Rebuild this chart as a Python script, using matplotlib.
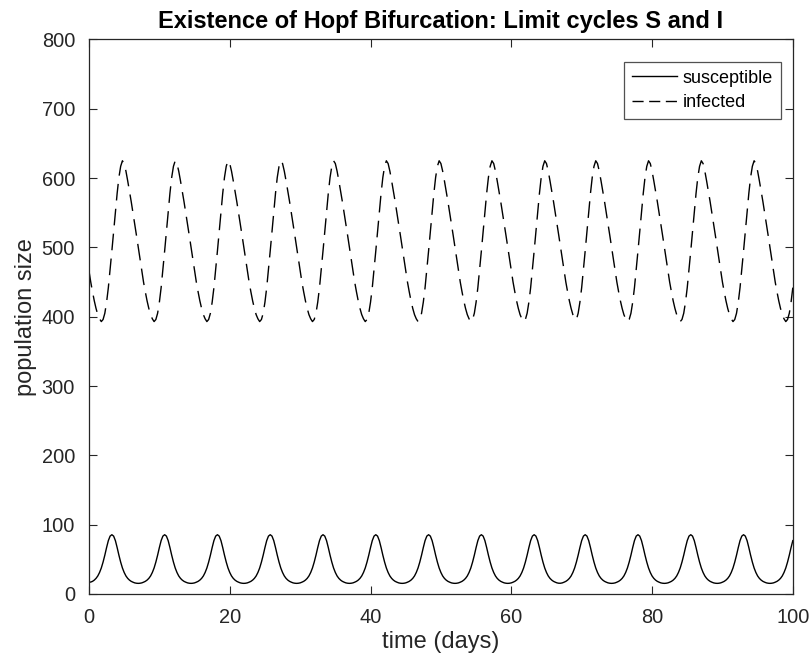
import numpy as np
import matplotlib.pyplot as plt
from matplotlib.lines import Line2D

# readings, one value every quarter day from t=0 to t=100
# (one row per ~7.5 day cycle)
susceptible = [
    17.0, 17.2, 18.2, 20.0, 22.5, 26.0, 31.0, 37.5, 46.0, 56.0, 67.0, 77.0, 83.5, 85.5, 83.5, 77.0, 67.0, 56.0, 46.0, 37.5, 31.0, 26.0, 22.5, 20.0, 18.2, 17.0, 16.0, 15.5,
    15.3, 15.5, 16.0, 17.0, 18.2, 20.0, 22.5, 26.0, 31.0, 37.5, 46.0, 56.0, 67.0, 77.0, 83.5, 85.5, 83.5, 77.0, 67.0, 56.0, 46.0, 37.5, 31.0, 26.0, 22.5, 20.0, 18.2, 17.0, 16.0, 15.5,
    15.3, 15.5, 16.0, 17.0, 18.2, 20.0, 22.5, 26.0, 31.0, 37.5, 46.0, 56.0, 67.0, 77.0, 83.5, 85.5, 83.5, 77.0, 67.0, 56.0, 46.0, 37.5, 31.0, 26.0, 22.5, 20.0, 18.2, 17.0, 16.0, 15.5,
    15.3, 15.5, 16.0, 17.0, 18.2, 20.0, 22.5, 26.0, 31.0, 37.5, 46.0, 56.0, 67.0, 77.0, 83.5, 85.5, 83.5, 77.0, 67.0, 56.0, 46.0, 37.5, 31.0, 26.0, 22.5, 20.0, 18.2, 17.0, 16.0, 15.5,
    15.3, 15.5, 16.0, 17.0, 18.2, 20.0, 22.5, 26.0, 31.0, 37.5, 46.0, 56.0, 67.0, 77.0, 83.5, 85.5, 83.5, 77.0, 67.0, 56.0, 46.0, 37.5, 31.0, 26.0, 22.5, 20.0, 18.2, 17.0, 16.0, 15.5,
    15.3, 15.5, 16.0, 17.0, 18.2, 20.0, 22.5, 26.0, 31.0, 37.5, 46.0, 56.0, 67.0, 77.0, 83.5, 85.5, 83.5, 77.0, 67.0, 56.0, 46.0, 37.5, 31.0, 26.0, 22.5, 20.0, 18.2, 17.0, 16.0, 15.5,
    15.3, 15.5, 16.0, 17.0, 18.2, 20.0, 22.5, 26.0, 31.0, 37.5, 46.0, 56.0, 67.0, 77.0, 83.5, 85.5, 83.5, 77.0, 67.0, 56.0, 46.0, 37.5, 31.0, 26.0, 22.5, 20.0, 18.2, 17.0, 16.0, 15.5,
    15.3, 15.5, 16.0, 17.0, 18.2, 20.0, 22.5, 26.0, 31.0, 37.5, 46.0, 56.0, 67.0, 77.0, 83.5, 85.5, 83.5, 77.0, 67.0, 56.0, 46.0, 37.5, 31.0, 26.0, 22.5, 20.0, 18.2, 17.0, 16.0, 15.5,
    15.3, 15.5, 16.0, 17.0, 18.2, 20.0, 22.5, 26.0, 31.0, 37.5, 46.0, 56.0, 67.0, 77.0, 83.5, 85.5, 83.5, 77.0, 67.0, 56.0, 46.0, 37.5, 31.0, 26.0, 22.5, 20.0, 18.2, 17.0, 16.0, 15.5,
    15.5, 16.0, 17.0, 18.2, 20.0, 22.5, 26.0, 31.0, 37.5, 46.0, 56.0, 67.0, 77.0, 83.5, 85.5, 83.5, 77.0, 67.0, 56.0, 46.0, 37.5, 31.0, 26.0, 22.5, 20.0, 18.2, 17.0, 16.0, 15.5,
    15.3, 15.5, 16.0, 17.0, 18.2, 20.0, 22.5, 26.0, 31.0, 37.5, 46.0, 56.0, 67.0, 77.0, 83.5, 85.5, 83.5, 77.0, 67.0, 56.0, 46.0, 37.5, 31.0, 26.0, 22.5, 20.0, 18.2, 17.0, 16.0, 15.5,
    15.3, 15.5, 16.0, 17.0, 18.2, 20.0, 22.5, 26.0, 31.0, 37.5, 46.0, 56.0, 67.0, 77.0, 83.5, 85.5, 83.5, 77.0, 67.0, 56.0, 46.0, 37.5, 31.0, 26.0, 22.5, 20.0, 18.2, 17.0, 16.0, 15.5,
    15.3, 15.5, 16.0, 17.0, 18.2, 20.0, 22.5, 26.0, 31.0, 37.5, 46.0, 56.0, 67.0, 77.0, 83.5, 85.5, 83.5, 77.0, 67.0, 56.0, 46.0, 37.5, 31.0, 26.0, 22.5, 20.0, 18.2, 17.0, 16.0, 15.5,
    15.3, 15.5, 16.0, 17.0, 18.2, 20.0, 22.5, 26.0, 31.0, 37.5, 46.0, 56.0, 67.0, 77.0,
]

infected = [
    466, 450, 436, 423, 412, 403, 397,
    393, 396, 405, 421, 442, 468, 495, 523, 551, 578, 601, 617, 625, 621, 610, 596, 581, 566, 550, 534, 517, 500, 483, 466, 450, 436, 423, 412, 403, 397,
    393, 396, 405, 421, 442, 468, 495, 523, 551, 578, 601, 617, 625, 621, 610, 596, 581, 566, 550, 534, 517, 500, 483, 466, 450, 436, 423, 412, 403, 397,
    393, 396, 405, 421, 442, 468, 495, 523, 551, 578, 601, 617, 625, 621, 610, 596, 581, 566, 550, 534, 517, 500, 483, 466, 450, 436, 423, 412, 403, 397,
    393, 396, 405, 421, 442, 468, 495, 523, 551, 578, 601, 617, 625, 621, 610, 596, 581, 566, 550, 534, 517, 500, 483, 466, 450, 436, 423, 412, 403, 397,
    393, 396, 405, 421, 442, 468, 495, 523, 551, 578, 601, 617, 625, 621, 610, 596, 581, 566, 550, 534, 517, 500, 483, 466, 450, 436, 423, 412, 403, 397,
    393, 396, 405, 421, 442, 468, 495, 523, 551, 578, 601, 617, 625, 621, 610, 596, 581, 566, 550, 534, 517, 500, 483, 466, 450, 436, 423, 412, 403, 397,
    393, 396, 405, 421, 442, 468, 495, 523, 551, 578, 601, 617, 625, 621, 610, 596, 581, 566, 550, 534, 517, 500, 483, 466, 450, 436, 423, 412, 403, 397,
    393, 396, 405, 421, 442, 468, 495, 523, 551, 578, 601, 617, 625, 621, 610, 596, 581, 566, 550, 534, 517, 500, 483, 466, 450, 436, 423, 412, 403, 397,
    393, 396, 405, 421, 442, 468, 495, 523, 551, 578, 601, 617, 625, 621, 610, 596, 581, 566, 550, 534, 517, 500, 483, 466, 450, 436, 423, 412, 403, 397,
    396, 405, 421, 442, 468, 495, 523, 551, 578, 601, 617, 625, 621, 610, 596, 581, 566, 550, 534, 517, 500, 483, 466, 450, 436, 423, 412, 403, 397,
    393, 396, 405, 421, 442, 468, 495, 523, 551, 578, 601, 617, 625, 621, 610, 596, 581, 566, 550, 534, 517, 500, 483, 466, 450, 436, 423, 412, 403, 397,
    393, 396, 405, 421, 442, 468, 495, 523, 551, 578, 601, 617, 625, 621, 610, 596, 581, 566, 550, 534, 517, 500, 483, 466, 450, 436, 423, 412, 403, 397,
    393, 396, 405, 421, 442, 468, 495, 523, 551, 578, 601, 617, 625, 621, 610, 596, 581, 566, 550, 534, 517, 500, 483, 466, 450, 436, 423, 412, 403, 397,
    393, 396, 405, 421, 442,
]

t_start, t_end = 0, 100
time_days = np.linspace(t_start, t_end, len(susceptible))

x_ticks = [0, 20, 40, 60, 80, 100]
y_ticks = [0, 100, 200, 300, 400, 500, 600, 700, 800]

plt.rcParams['font.family'] = ['Liberation Sans', 'DejaVu Sans']
axis_grey = (0.15, 0.15, 0.15)

fig = plt.figure(figsize=(8.09, 6.58), dpi=100)
ax = fig.add_axes([0.110, 0.0973, 0.870, 0.8427])

ax.plot(time_days, susceptible, color='black', lw=1.0)
ax.plot(np.linspace(t_start, t_end, len(infected)), infected, color='black', lw=1.0,
        dashes=(12, 6))

ax.set_xlim(t_start, t_end)
ax.set_ylim(0, 800)
ax.set_xticks(x_ticks)
ax.set_yticks(y_ticks)
ax.tick_params(direction='in', length=6, width=0.8, colors=axis_grey,
               labelsize=14.4, top=True, right=True, labelcolor=axis_grey)
ax.tick_params(axis='x', pad=10)
ax.tick_params(axis='y', pad=10)
for s in ax.spines.values():
    s.set_color(axis_grey)
    s.set_linewidth(0.9)

ax.set_xlabel('time (days)', fontsize=17, color=axis_grey, labelpad=3)
ax.set_ylabel('population size', fontsize=17, color=axis_grey, labelpad=3)
ax.set_title('Existence of Hopf Bifurcation: Limit cycles S and I',
             fontsize=17, fontweight='bold', pad=8)

# legend handles: the short legend line shows three dashes in the reference
handles = [Line2D([], [], color='black', lw=1.0),
           Line2D([], [], color='black', lw=1.0, dashes=(8, 4))]
leg = ax.legend(handles, ['susceptible', 'infected'], loc='upper right',
                bbox_to_anchor=(0.983, 0.96), fontsize=13,
                frameon=True, fancybox=False, handlelength=2.5, handletextpad=0.3,
                borderpad=0.45, labelspacing=0.4, borderaxespad=0)
leg.get_frame().set_edgecolor(axis_grey)
leg.get_frame().set_linewidth(0.9)

fig.savefig('out.png', dpi=100)
